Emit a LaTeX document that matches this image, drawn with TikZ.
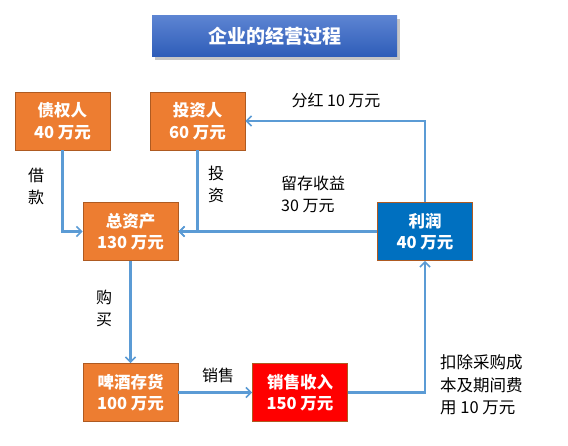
\documentclass[tikz,border=0pt]{standalone}
\usepackage{fontspec}
\setmainfont{Noto Sans CJK SC}
\usetikzlibrary{arrows.meta,shadows,positioning}
\definecolor{org}{HTML}{ED7D31}
\definecolor{orgb}{HTML}{AE5A21}
\definecolor{arr}{HTML}{5B9BD5}
\definecolor{lrblue}{HTML}{0070C0}
\begin{document}
\begin{tikzpicture}[x=1pt,y=-1pt,
  box/.style={draw=orgb, line width=0.8pt, fill=org, minimum width=95pt, minimum height=58pt,
    text=white, align=center, font=\fontsize{16.5}{21.5}\selectfont\bfseries, inner sep=0pt},
  flow/.style={draw=arr, line width=2.1pt, -{Straight Barb[length=5pt,width=10pt,line width=1.6pt]}},
  lab/.style={font=\fontsize{16}{22}\selectfont, align=left, inner sep=0pt}]
\useasboundingbox (0,0) rectangle (568,446);
\node[draw=none, top color={rgb,255:red,92;green,132;blue,210}, bottom color={rgb,255:red,46;green,92;blue,184},
  minimum width=245pt, minimum height=41pt, drop shadow={opacity=0.45, shadow xshift=3pt, shadow yshift=-3pt},
  text=white, font=\fontsize{19}{22}\selectfont\bfseries] (title) at (274.5,36.5) {企业的经营过程};
\node[box] (zq) at (62.5,121) {债权人\\40 万元};
\node[box] (tz) at (197.5,121) {投资人\\60 万元};
\node[box] (zc) at (130.5,231.5) {总资产\\130 万元};
\node[box, fill=lrblue] (lr) at (425,231.5) {利润\\40 万元};
\node[box] (ch) at (130.5,392.5) {啤酒存货\\100 万元};
\node[box, fill=red] (xs) at (300,392.5) {销售收入\\150 万元};
\draw[flow] (zq.south) |- (zc.west);
\draw[flow] (tz.south) |- (zc.east);
\draw[flow] (lr.west) -- (zc.east);
\draw[flow] (lr.north) |- (tz.east);
\draw[flow] (zc.south) -- (ch.north);
\draw[flow] (ch.east) -- (xs.west);
\draw[flow] (xs.east) -| (lr.south);
\node[lab, align=center] (l1) at (36,186) {借\\款};
\node[lab, align=center] (l2) at (216,184) {投\\资};
\node[lab, align=center] (l3) at (104,308) {购\\买};
\node[lab] (l4) at (218,375) {销售};
\node[lab] (l5) at (336,100) {分红 10 万元};
\node[lab, anchor=west] (l6) at (281,194) {留存收益\\30 万元};
\node[lab, anchor=west, font=\fontsize{16.5}{22.5}\selectfont] (l7) at (440,385) {扣除采购成\\本及期间费\\用 10 万元};
\end{tikzpicture}
\end{document}
